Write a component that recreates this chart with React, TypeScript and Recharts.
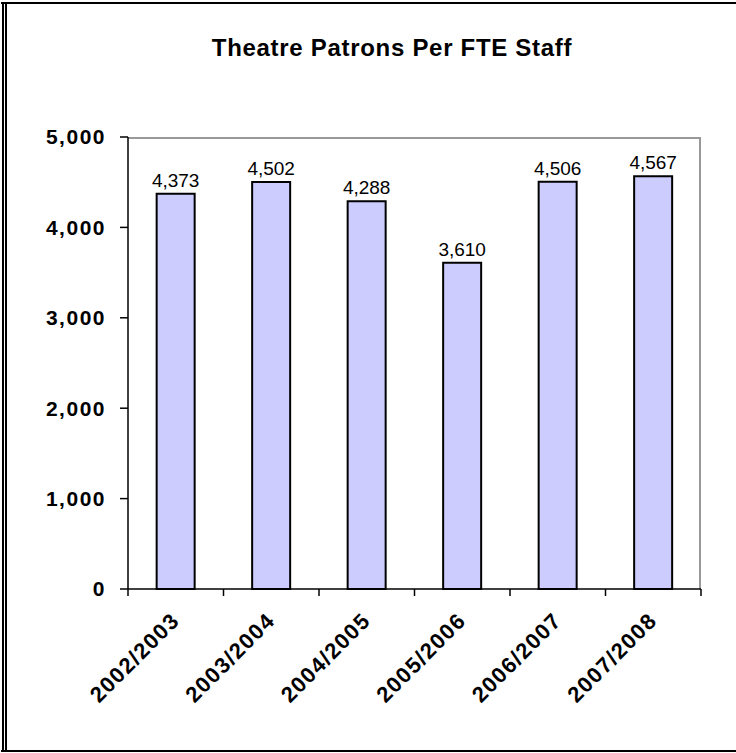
import { BarChart, Bar, XAxis, YAxis, LabelList } from "recharts";

const seasons = ["2002/2003", "2003/2004", "2004/2005", "2005/2006", "2006/2007", "2007/2008"];
const patronsPerFte = [4373, 4502, 4288, 3610, 4506, 4567];
const yTicks = [0, 1000, 2000, 3000, 4000, 5000];
const edgeTicks = [0, 1, 2, 3, 4, 5, 6];

const data = seasons.map((season, i) => ({ season, pos: i + 0.5, value: patronsPerFte[i] }));

const FONT = "'Liberation Sans', Arial, sans-serif";
const fmt = (v: number) => v.toLocaleString("en-US");

function SeasonTick(props: any) {
  const { x, y, payload } = props;
  const ax = x + 5;
  const ay = y + 24;
  return (
    <text
      x={ax}
      y={ay}
      transform={`rotate(-45 ${ax} ${ay})`}
      textAnchor="end"
      fontFamily={FONT}
      fontWeight="bold"
      fontSize={22}
      letterSpacing={1.3}
      fill="#000"
    >
      {payload.value}
    </text>
  );
}

export default function App() {
  return (
    <div style={{ position: "absolute", left: 0, top: 0, width: 736, height: 753, background: "#fff", overflow: "hidden" }}>
      {/* outer frame */}
      <div style={{ position: "absolute", left: 1, top: 2, width: 735, height: 2, background: "#000" }} />
      <div style={{ position: "absolute", left: 2, top: 2, width: 2, height: 750, background: "#000" }} />
      <div style={{ position: "absolute", left: 5, top: 2, width: 2, height: 750, background: "#000" }} />
      <div style={{ position: "absolute", left: 1, top: 750, width: 735, height: 2, background: "#000" }} />
      {/* plot area border */}
      <div
        style={{
          position: "absolute",
          left: 128,
          top: 137,
          width: 573,
          height: 452,
          borderTop: "2px solid #999",
          borderRight: "2px solid #999",
          boxSizing: "border-box",
        }}
      />
      <div
        style={{
          position: "absolute",
          left: 48,
          top: 34,
          width: 688,
          textAlign: "center",
          fontFamily: FONT,
          fontWeight: "bold",
          fontSize: 24,
          letterSpacing: 0.7,
        }}
      >
        Theatre Patrons Per FTE Staff
      </div>
      <div style={{ position: "absolute", left: 0, top: 0 }}>
        <BarChart
          width={736}
          height={753}
          data={data}
          margin={{ top: 137, right: 35, bottom: 0, left: 0 }}
          barCategoryGap="30%"
        >
          {/* boundary ticks between categories; id "a" keeps it stacked first */}
          <XAxis
            xAxisId="a"
            dataKey="pos"
            type="number"
            domain={[0, 6]}
            allowDataOverflow
            ticks={edgeTicks}
            tick={() => <g />}
            tickSize={7}
            tickLine={{ stroke: "#000", strokeWidth: 1.5 }}
            axisLine={{ stroke: "#000", strokeWidth: 1.5 }}
            height={1}
          />
          <XAxis
            xAxisId="b"
            dataKey="season"
            axisLine={false}
            tickLine={false}
            interval={0}
            tick={<SeasonTick />}
            height={163}
          />
          <YAxis
            domain={[0, 5000]}
            ticks={yTicks}
            tickFormatter={fmt}
            width={128}
            tickSize={8}
            tickMargin={14}
            tickLine={{ stroke: "#000", strokeWidth: 1.5 }}
            axisLine={{ stroke: "#000", strokeWidth: 1.5 }}
            tick={{ fill: "#000", fontFamily: FONT, fontWeight: "bold", fontSize: 21, letterSpacing: 1.5 }}
          />
          <Bar
            xAxisId="b"
            dataKey="value"
            fill="#CCCCFF"
            stroke="#000"
            strokeWidth={2}
            isAnimationActive={false}
          >
            <LabelList
              dataKey="value"
              position="top"
              offset={7}
              formatter={(v: any) => fmt(Number(v))}
              style={{ fill: "#000", fontFamily: FONT, fontSize: 19 }}
            />
          </Bar>
        </BarChart>
      </div>
    </div>
  );
}
